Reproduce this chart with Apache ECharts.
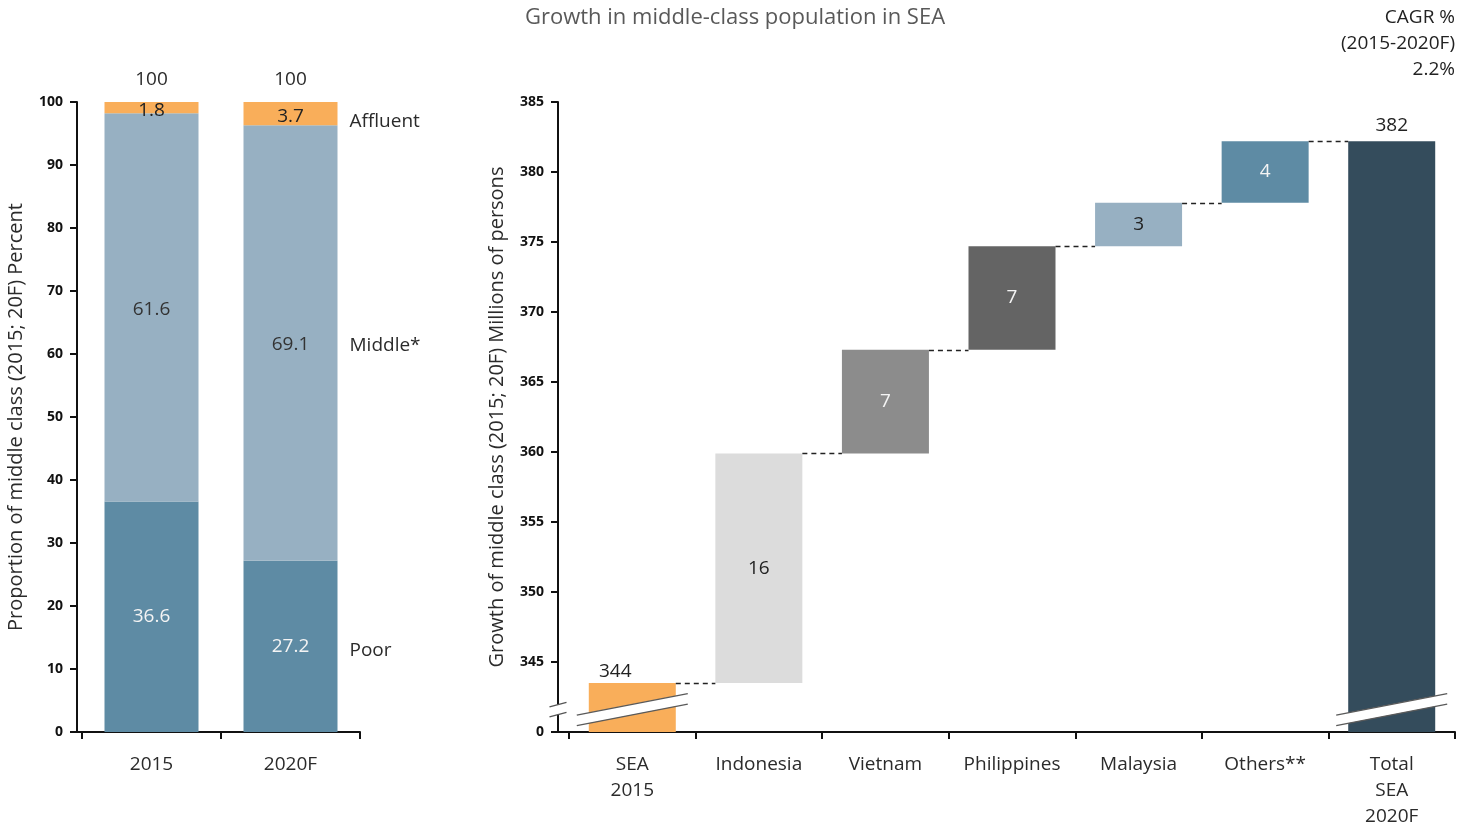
<!DOCTYPE html>
<html>
<head>
<meta charset="utf-8">
<script src="https://cdn.jsdelivr.net/npm/echarts@6/dist/echarts.min.js"></script>
<style>
  html, body { margin: 0; padding: 0; background: #ffffff; }
  #chart { width: 1470px; height: 827px; }
</style>
</head>
<body>
<div id="chart"></div>
<script>
// Share of population by income class (percent)
const shareYears = ['2015', '2020F'];
const poorShare = [36.6, 27.2];
const middleShare = [61.6, 69.1];
const affluentShare = [1.8, 3.7];
const classNames = ['Poor', 'Middle*', 'Affluent'];

// Middle-class population bridge (millions of persons)
const bridgeCategories = ['SEA\n2015', 'Indonesia', 'Vietnam', 'Philippines', 'Malaysia', 'Others**', 'Total\nSEA\n2020F'];
const sea2015 = 343.5;
const countryGains = [16.4, 7.4, 7.4, 3.1, 4.4];
const cagrLines = ['CAGR %', '(2015-2020F)', '2.2%'];

const FONT = '"Open Sans", "Noto Sans", "DejaVu Sans", sans-serif';
const AXIS_COLOR = '#111111';
const TEXT_COLOR = '#2b2b2b';
const ORANGE = '#F9AE5A';
const MID_BLUE = '#97B0C2';
const POOR_BLUE = '#5E8BA4';

const LEFT_BAR_W = 94;
const RIGHT_BAR_W = 87;
const LEFT_AXIS_OFFSET = 5;
const RIGHT_AXIS_OFFSET = 11;

// running levels of the bridge
const bridgeBase = [0];
let level = sea2015;
const connectorLevels = [[0, level]];
countryGains.forEach((g, i) => {
  bridgeBase.push(level);
  level += g;
  connectorLevels.push([i + 1, level]);
});
bridgeBase.push(0);
const total2020 = level;
const bridgeValues = [sea2015, ...countryGains, total2020];
const bridgeColors = [ORANGE, '#DCDCDC', '#8C8C8C', '#646464', MID_BLUE, POOR_BLUE, '#344C5C'];
const bridgeLabelColors = ['#222222', '#222222', '#f4f4f4', '#f4f4f4', '#222222', '#f4f4f4', '#222222'];
const lastIdx = bridgeValues.length - 1;

const bridgeItems = bridgeValues.map((v, i) => ({
  value: v,
  itemStyle: { color: bridgeColors[i] },
  label: {
    position: (i === 0 || i === lastIdx) ? 'top' : 'inside',
    distance: i === 0 ? 2 : 6,
    offset: i === 0 ? [-17, 0] : [0, 0],
    color: bridgeLabelColors[i]
  }
}));

const shareTotals = shareYears.map((_, i) => poorShare[i] + middleShare[i] + affluentShare[i]);

const textBase = { fontFamily: FONT, fontSize: 19, color: TEXT_COLOR };

function shareSeries(name, data, labelColor, offsetY) {
  return {
    name: name, type: 'bar', stack: 'share', xAxisIndex: 0, yAxisIndex: 0,
    barWidth: LEFT_BAR_W, barGap: '-100%', data: data,
    itemStyle: { color: name === 'Poor' ? POOR_BLUE : (name === 'Affluent' ? ORANGE : MID_BLUE) },
    label: {
      show: true, position: 'inside', offset: [0, offsetY],
      formatter: p => p.value.toFixed(1),
      ...textBase, color: labelColor
    },
    emphasis: { disabled: true }, silent: true
  };
}

// transparent twins that carry the class names beside the 2020F column
function nameSeries(name, data, offsetY) {
  return {
    name: name + ' label', type: 'bar', stack: 'names', xAxisIndex: 0, yAxisIndex: 0,
    barWidth: LEFT_BAR_W, barGap: '-100%',
    data: data.map((v, i) => ({
      value: v,
      label: { show: i === data.length - 1 }
    })),
    itemStyle: { color: 'rgba(0,0,0,0)' },
    label: {
      position: 'right', distance: 12, offset: [0, offsetY],
      formatter: () => name, ...textBase
    },
    emphasis: { disabled: true }, silent: true, z: 1
  };
}

// joins the offset y axis to the x axis line, optionally with a break mark
function axisJoinSeries(xIdx, yIdx, baseValue, axisOffset, breakValue) {
  return {
    type: 'custom', xAxisIndex: xIdx, yAxisIndex: yIdx, z: 6, silent: true, clip: false,
    data: [[0, baseValue]],
    renderItem: (params, api) => {
      const band = api.size([1, 0])[0];
      const base = api.coord([0, baseValue]);
      const gridLeft = base[0] - band / 2;
      const axisX = gridLeft - axisOffset;
      const children = [{
        type: 'line',
        shape: { x1: axisX, y1: base[1], x2: gridLeft + 1, y2: base[1] },
        style: { stroke: AXIS_COLOR, lineWidth: 2 }
      }];
      if (breakValue != null) {
        const c = api.coord([0, breakValue]);
        const hw = 8.5, rise = 4.5, gap = 10;
        const yu1 = c[1] - gap / 2 + rise / 2, yu2 = c[1] - gap / 2 - rise / 2;
        children.push({
          type: 'polygon',
          shape: { points: [[axisX - hw, yu1], [axisX + hw, yu2], [axisX + hw, yu2 + gap], [axisX - hw, yu1 + gap]] },
          style: { fill: '#ffffff' }
        });
        children.push({ type: 'line', shape: { x1: axisX - hw, y1: yu1, x2: axisX + hw, y2: yu2 }, style: { stroke: '#555555', lineWidth: 1.3 } });
        children.push({ type: 'line', shape: { x1: axisX - hw, y1: yu1 + gap, x2: axisX + hw, y2: yu2 + gap }, style: { stroke: '#555555', lineWidth: 1.3 } });
      }
      return { type: 'group', children: children };
    }
  };
}

const BREAK_VALUE = 341.6;

const option = {
  animation: false,
  backgroundColor: '#ffffff',
  textStyle: { fontFamily: FONT },
  title: {
    text: 'Growth in middle-class population in SEA',
    left: 'center', top: 2,
    textStyle: { fontFamily: FONT, fontSize: 22, fontWeight: 'normal', color: '#595959' }
  },
  graphic: cagrLines.map((line, i) => ({
    type: 'text', right: 15, top: 8 + i * 26,
    style: { text: line, font: '19px ' + FONT, fill: '#222222' }
  })),
  grid: [
    { left: 82, top: 102, width: 278, height: 630, outerBoundsMode: 'none' },
    { left: 569, top: 102, width: 886, height: 630, outerBoundsMode: 'none' }
  ],
  xAxis: [
    {
      type: 'category', gridIndex: 0, data: shareYears,
      axisLine: { show: true, lineStyle: { color: AXIS_COLOR, width: 2 } },
      axisTick: { show: true, length: 7, lineStyle: { color: AXIS_COLOR, width: 2 } },
      axisLabel: { ...textBase, margin: 20, lineHeight: 26, interval: 0 },
      splitLine: { show: false }
    },
    {
      type: 'category', gridIndex: 1, data: bridgeCategories,
      axisLine: { show: true, lineStyle: { color: AXIS_COLOR, width: 2 } },
      axisTick: { show: true, length: 7, lineStyle: { color: AXIS_COLOR, width: 2 } },
      axisLabel: { ...textBase, margin: 20, lineHeight: 26, interval: 0 },
      splitLine: { show: false }
    }
  ],
  yAxis: [
    {
      type: 'value', gridIndex: 0, min: 0, max: 100, interval: 10, offset: LEFT_AXIS_OFFSET,
      name: 'Proportion of middle class (2015; 20F) Percent',
      nameLocation: 'middle', nameGap: 51,
      nameTextStyle: { fontFamily: FONT, fontSize: 20, color: TEXT_COLOR },
      axisLine: { show: true, lineStyle: { color: AXIS_COLOR, width: 2 } },
      axisTick: { show: true, length: 7, lineStyle: { color: AXIS_COLOR, width: 2 } },
      axisLabel: { fontFamily: FONT, fontSize: 14, fontWeight: 'bold', color: AXIS_COLOR, margin: 14 },
      splitLine: { show: false }
    },
    {
      type: 'value', gridIndex: 1, min: 340, max: 385, interval: 5, offset: RIGHT_AXIS_OFFSET,
      name: 'Growth of middle class (2015; 20F) Millions of persons',
      nameLocation: 'middle', nameGap: 51,
      nameTextStyle: { fontFamily: FONT, fontSize: 20, color: TEXT_COLOR },
      axisLine: { show: true, lineStyle: { color: AXIS_COLOR, width: 2 } },
      axisTick: { show: true, length: 7, lineStyle: { color: AXIS_COLOR, width: 2 } },
      axisLabel: {
        fontFamily: FONT, fontSize: 14, fontWeight: 'bold', color: AXIS_COLOR, margin: 14,
        formatter: v => (v === 340 ? '0' : String(v))
      },
      splitLine: { show: false }
    }
  ],
  series: [
    shareSeries(classNames[0], poorShare, '#f4f4f4', 0),
    shareSeries(classNames[1], middleShare, '#333333', 2),
    shareSeries(classNames[2], affluentShare, '#222222', 3),
    nameSeries(classNames[0], poorShare, 4),
    nameSeries(classNames[1], middleShare, 3),
    nameSeries(classNames[2], affluentShare, 8),
    {
      name: 'Total share', type: 'bar', xAxisIndex: 0, yAxisIndex: 0,
      barWidth: LEFT_BAR_W, barGap: '-100%', data: shareTotals,
      itemStyle: { color: 'rgba(0,0,0,0)' },
      label: { show: true, position: 'top', distance: 13, formatter: p => Math.round(p.value), ...textBase },
      emphasis: { disabled: true }, silent: true, z: 1
    },
    axisJoinSeries(0, 0, 0, LEFT_AXIS_OFFSET, null),

    // bridge: invisible base + visible step
    {
      name: 'base', type: 'bar', stack: 'bridge', xAxisIndex: 1, yAxisIndex: 1,
      barWidth: RIGHT_BAR_W, data: bridgeBase,
      itemStyle: { color: 'rgba(0,0,0,0)' },
      emphasis: { disabled: true }, silent: true
    },
    {
      name: 'change', type: 'bar', stack: 'bridge', xAxisIndex: 1, yAxisIndex: 1,
      barWidth: RIGHT_BAR_W, data: bridgeItems,
      label: { show: true, formatter: p => Math.round(p.value), ...textBase },
      emphasis: { disabled: true }, silent: true
    },
    {
      name: 'connectors', type: 'custom', xAxisIndex: 1, yAxisIndex: 1, z: 4, silent: true,
      data: connectorLevels,
      renderItem: (params, api) => {
        const i = api.value(0), v = api.value(1);
        const a = api.coord([i, v]), b = api.coord([i + 1, v]);
        const y = Math.round(a[1]) + 0.5;
        return {
          type: 'line',
          shape: { x1: a[0] + RIGHT_BAR_W / 2, y1: y, x2: b[0] - RIGHT_BAR_W / 2, y2: y },
          style: { stroke: '#222222', lineWidth: 1.5, lineDash: [5, 4] }
        };
      }
    },
    {
      name: 'bar breaks', type: 'custom', xAxisIndex: 1, yAxisIndex: 1, z: 5, silent: true, clip: false,
      data: [[0, BREAK_VALUE], [lastIdx, BREAK_VALUE]],
      renderItem: (params, api) => {
        const c = api.coord([api.value(0), api.value(1)]);
        const hw = RIGHT_BAR_W / 2 + 12, rise = 21.5, gap = 10.5;
        const x1 = c[0] - hw, x2 = c[0] + hw;
        const yu1 = c[1] - gap / 2 + rise / 2, yu2 = c[1] - gap / 2 - rise / 2;
        return {
          type: 'group',
          children: [
            { type: 'polygon', shape: { points: [[x1, yu1], [x2, yu2], [x2, yu2 + gap], [x1, yu1 + gap]] }, style: { fill: '#ffffff' } },
            { type: 'line', shape: { x1: x1, y1: yu1, x2: x2, y2: yu2 }, style: { stroke: '#5a5a5a', lineWidth: 1.4 } },
            { type: 'line', shape: { x1: x1, y1: yu1 + gap, x2: x2, y2: yu2 + gap }, style: { stroke: '#5a5a5a', lineWidth: 1.4 } }
          ]
        };
      }
    },
    axisJoinSeries(1, 1, 340, RIGHT_AXIS_OFFSET, BREAK_VALUE)
  ]
};

const chart = echarts.init(document.getElementById('chart'), null, { renderer: 'canvas' });
chart.setOption(option);
</script>
</body>
</html>
